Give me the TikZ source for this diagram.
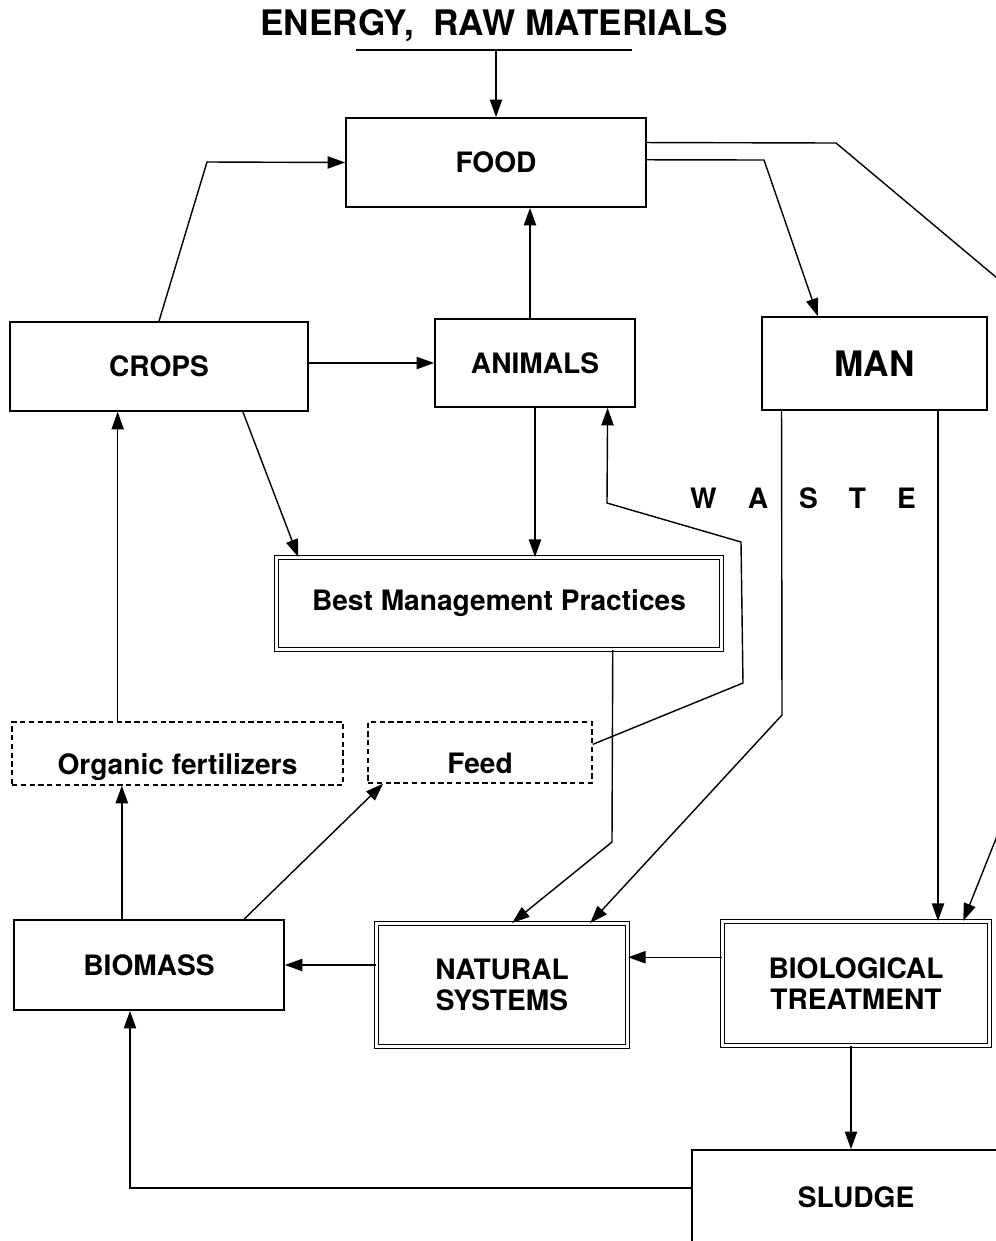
\documentclass[tikz,border=0pt]{standalone}
\usepackage{fontspec}
\setmainfont{TeX Gyre Heros}
\usetikzlibrary{arrows.meta,calc}

\begin{document}
\begin{tikzpicture}[x = 0.2mm, y = -0.2mm, line width = 0.8pt,
				>={Triangle[length=10pt,width=7pt]},
				box/.style = {draw, line width = 1pt, inner sep = 0pt,
				font = \fontsize{16}{18}\selectfont\bfseries, align = center},
				twobox/.style = {box, double, double distance = 1.3pt,
				line width = 0.6pt},
				dashbox/.style = {box, dashed, dash pattern = on 3pt off 2pt,
				line width = 0.8pt, text height = 28pt, text depth = 4pt}]

				\useasboundingbox (0,0) rectangle (996,1241);
				\clip (0,0) rectangle (996,1241);

				% heading and its bar
				\node [font = \fontsize{20}{22}\selectfont\bfseries] (title) at (494,26)
				{ENERGY,\ \ RAW MATERIALS};
				\coordinate (bar_l) at (356,50);
				\coordinate (bar_r) at (632,50);

				% boxes
				\node [box, minimum width = 6cm, minimum height = 1.78cm] (food) at (496,162.5) {FOOD};
				\node [box, minimum width = 5.96cm, minimum height = 1.78cm] (crops) at (159,366.5) {CROPS};
				\node [box, minimum width = 4cm, minimum height = 1.76cm] (animals) at (535,363) {ANIMALS};
				\node [box, minimum width = 4.5cm, minimum height = 1.86cm,
				font = \fontsize{20}{22}\selectfont\bfseries] (man) at (874.5,363.5) {MAN};
				\node [twobox, minimum width = 8.9cm, minimum height = 1.84cm] (bmp) at (499,603.5)
				{Best Management Practices};
				\node [dashbox, minimum width = 6.62cm, minimum height = 1.26cm] (organic) at (177.5,753.5)
				{Organic fertilizers};
				\node [dashbox, minimum width = 4.48cm, minimum height = 1.22cm] (feed) at (480,752.5) {Feed};
				\node [box, minimum width = 5.4cm, minimum height = 1.8cm] (biomass) at (149,965) {BIOMASS};
				\node [twobox, minimum width = 5.02cm, minimum height = 2.46cm] (natural) at (502,985)
				{NATURAL\\SYSTEMS};
				\node [twobox, minimum width = 5.34cm, minimum height = 2.48cm] (bio) at (856,983.5)
				{BIOLOGICAL\\TREATMENT};
				\node [box, minimum width = 6.56cm, minimum height = 1.9cm] (sludge) at (856,1197.5) {SLUDGE};

				\node [font = \fontsize{16}{18}\selectfont\bfseries] (waste) at (803,498)
				{W\hspace{6.2mm}A\hspace{6.2mm}S\hspace{6.2mm}T\hspace{6.2mm}E};

				% inputs to food
				\draw (bar_l) -- (bar_r);
				\draw [->] (food.north |- bar_l) -- (food.north);
				\draw [->] (crops.north) -- (207,162) -- (food.west);
				\draw [->] ([xshift = -1mm]animals.north) -- ([xshift = -1mm]animals.north |- food.south);
				\draw [->] (crops.east |- animals.west) -- (animals.west);

				% food to man and to treatment
				\draw [->] ($(food.north east)!0.47!(food.south east)$) -- (764,160)
				-- ($(man.north west)!0.25!(man.north east)$);
				\draw [->] ($(food.north east)!0.28!(food.south east)$) -- (836,143) -- (1040,314)
				-- (1040,728) -- ($(bio.north west)!0.9!(bio.north east)$);

				% crops and animals to best management practices
				\draw [->] ($(crops.south west)!0.78!(crops.south east)$)
				-- ($(bmp.north west)!0.05!(bmp.north east)$);
				\draw [->] (animals.south) -- (animals.south |- bmp.north);

				% feed back to animals
				\draw [->] ($(feed.north east)!0.37!(feed.south east)$) -- (743,683) -- (741,542)
				-- (607,503) -- ($(animals.south west)!0.86!(animals.south east)$);

				% waste streams
				\draw [->] ($(man.south west)!0.09!(man.south east)$) -- (782,715)
				-- ($(natural.north west)!0.85!(natural.north east)$);
				\draw [->] ($(man.south west)!0.78!(man.south east)$) coordinate (m_2) -- (m_2 |- bio.north);
				\draw [->] ($(bmp.south west)!0.755!(bmp.south east)$) -- (612,842)
				-- ($(natural.north west)!0.54!(natural.north east)$);

				% treatment chain
				\draw [->] ($(bio.north west)!0.29!(bio.south west)$) coordinate (b_1) -- (natural.east |- b_1);
				\draw [->] (natural.west |- biomass.east) -- (biomass.east);
				\draw [->] ([xshift = -1mm]bio.south) -- ([xshift = -1mm]bio.south |- sludge.north);
				\draw [->] ($(sludge.north west)!0.4!(sludge.south west)$)
				-| ($(biomass.south west)!0.43!(biomass.south east)$);

				% biomass uses
				\draw [->] ($(biomass.north west)!0.4!(biomass.north east)$) coordinate (b_2)
				-- (b_2 |- organic.south);
				\draw [->] ($(organic.north west)!0.32!(organic.north east)$) coordinate (o_1)
				-- (o_1 |- crops.south);
				\draw [->] ($(biomass.north west)!0.85!(biomass.north east)$)
				-- ($(feed.south west)!0.07!(feed.south east)$);
			\end{tikzpicture}
\end{document}
